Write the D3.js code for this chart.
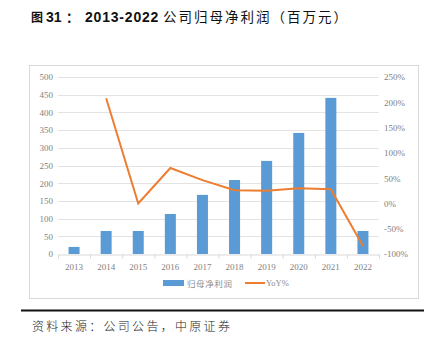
<!DOCTYPE html>
<html>
<head>
<meta charset="utf-8">
<script src="https://cdn.jsdelivr.net/npm/d3@7"></script>
<style>
  body { margin: 0; background: #fff; }
  svg { display: block; }
</style>
</head>
<body>
<svg id="chart" width="432" height="351"></svg>
<script>
var years = ["2013", "2014", "2015", "2016", "2017", "2018", "2019", "2020", "2021", "2022"];
var profit = [20, 65, 65, 113, 167, 209, 263, 342, 441, 65];
var yoy = [null, 2.08, 0.0, 0.70, 0.46, 0.26, 0.25, 0.30, 0.28, -0.84];
var leftTicks = [0, 50, 100, 150, 200, 250, 300, 350, 400, 450, 500];
var rightTicks = [-1, -0.5, 0, 0.5, 1, 1.5, 2, 2.5];

var svg = d3.select("#chart");
var serif = "'Liberation Serif', 'DejaVu Serif', serif";
var cjk = "'Noto Sans CJK SC', sans-serif";
var sans = "'Liberation Sans', Arial, sans-serif";

// title, split so each part gets the reference's spacing
var title = svg.append("text")
  .attr("y", 22)
  .style("font-weight", "bold")
  .attr("fill", "#111");
title.append("tspan").attr("x", 31)
  .style("font-family", cjk).style("font-size", "12px")
  .text("图");
title.append("tspan").attr("x", 46)
  .style("font-family", sans).style("font-size", "14px")
  .text("31");
title.append("tspan").attr("x", 66)
  .style("font-family", cjk).style("font-size", "13px")
  .text("：");
title.append("tspan").attr("x", 85)
  .style("font-family", sans).style("font-size", "14px")
  .style("letter-spacing", "0.8px")
  .text("2013-2022");
title.append("tspan").attr("x", 163)
  .style("font-family", cjk).style("font-size", "13.5px")
  .style("font-weight", "normal")
  .style("letter-spacing", "2px")
  .text("公司归母净利润（百万元）");

// chart frame
svg.append("rect")
  .attr("x", 29.5).attr("y", 65.5)
  .attr("width", 389).attr("height", 233)
  .attr("fill", "none")
  .attr("stroke", "#d9d9d9");

var plot = { left: 58, right: 379, top: 77, bottom: 254 };

var x = d3.scaleBand()
  .domain(years)
  .range([plot.left, plot.right]);

var yL = d3.scaleLinear()
  .domain([0, 500])
  .range([plot.bottom, plot.top]);

var yR = d3.scaleLinear()
  .domain([-1, 2.5])
  .range([plot.bottom, plot.top]);

// gridlines
svg.append("g")
  .selectAll("line")
  .data(leftTicks.slice(1))
  .join("line")
  .attr("x1", plot.left).attr("x2", plot.right)
  .attr("y1", d => Math.round(yL(d)) + 0.5)
  .attr("y2", d => Math.round(yL(d)) + 0.5)
  .attr("stroke", "#e3e3e3");

// left axis
var leftAxis = svg.append("g")
  .attr("transform", "translate(" + (plot.left - 5) + ",0)")
  .call(d3.axisLeft(yL).tickValues(leftTicks).tickSize(0).tickPadding(0));
leftAxis.select(".domain").remove();
leftAxis.selectAll("text")
  .style("font-family", serif)
  .style("font-size", "9px")
  .attr("fill", "#7f7f7f");

// right axis
var rightAxis = svg.append("g")
  .attr("transform", "translate(" + (plot.right + 5) + ",0)")
  .call(d3.axisRight(yR).tickValues(rightTicks).tickSize(0).tickPadding(0)
    .tickFormat(d => Math.round(d * 100) + "%"));
rightAxis.select(".domain").remove();
rightAxis.selectAll("text")
  .style("font-family", serif)
  .style("font-size", "9px")
  .attr("fill", "#7f7f7f");

// bars
var barW = 11;
svg.append("g")
  .selectAll("rect")
  .data(profit)
  .join("rect")
  .attr("x", (d, i) => x(years[i]) + x.bandwidth() / 2 - barW / 2)
  .attr("y", d => yL(d))
  .attr("width", barW)
  .attr("height", d => plot.bottom - yL(d))
  .attr("fill", "#5b9bd5");

// x axis
var xAxis = svg.append("g")
  .attr("transform", "translate(0," + (plot.bottom + 0.5) + ")")
  .call(d3.axisBottom(x).tickSize(0).tickPadding(9));
xAxis.select(".domain").attr("stroke", "#d9d9d9");
xAxis.selectAll("text")
  .style("font-family", serif)
  .style("font-size", "9px")
  .attr("fill", "#7f7f7f");
xAxis.selectAll(".sep")
  .data(years.concat(["end"]))
  .join("line")
  .attr("class", "sep")
  .attr("x1", (d, i) => plot.left + i * x.step() + 0.5)
  .attr("x2", (d, i) => plot.left + i * x.step() + 0.5)
  .attr("y1", 0).attr("y2", 4)
  .attr("stroke", "#d9d9d9");

// yoy line
var line = d3.line()
  .defined(d => d != null)
  .x((d, i) => x(years[i]) + x.bandwidth() / 2)
  .y(d => yR(d));

svg.append("path")
  .datum(yoy)
  .attr("d", line)
  .attr("fill", "none")
  .attr("stroke", "#ed7d31")
  .attr("stroke-width", 2);

// legend
var legend = svg.append("g").attr("transform", "translate(0,283)");
legend.append("rect")
  .attr("x", 163).attr("y", -3).attr("width", 21).attr("height", 6)
  .attr("fill", "#5b9bd5");
legend.append("text")
  .attr("x", 187).attr("y", 3.5)
  .style("font-family", cjk)
  .style("font-size", "8.5px")
  .style("letter-spacing", "0.6px")
  .attr("fill", "#8c8c8c")
  .text("归母净利润");
legend.append("line")
  .attr("x1", 245).attr("x2", 265).attr("y1", 0).attr("y2", 0)
  .attr("stroke", "#ed7d31").attr("stroke-width", 2);
legend.append("text")
  .attr("x", 266).attr("y", 3)
  .style("font-family", serif)
  .style("font-size", "8.5px")
  .attr("fill", "#8c8c8c")
  .text("YoY%");

// footer rule and source
svg.append("line")
  .attr("x1", 21).attr("x2", 424).attr("y1", 310.5).attr("y2", 310.5)
  .attr("stroke", "#111").attr("stroke-width", 2);
svg.append("text")
  .attr("x", 32).attr("y", 331)
  .style("font-family", cjk)
  .style("font-size", "12px")
  .style("font-weight", "300")
  .style("letter-spacing", "2.3px")
  .attr("fill", "#222")
  .text("资料来源：公司公告，中原证券");
</script>
</body>
</html>
